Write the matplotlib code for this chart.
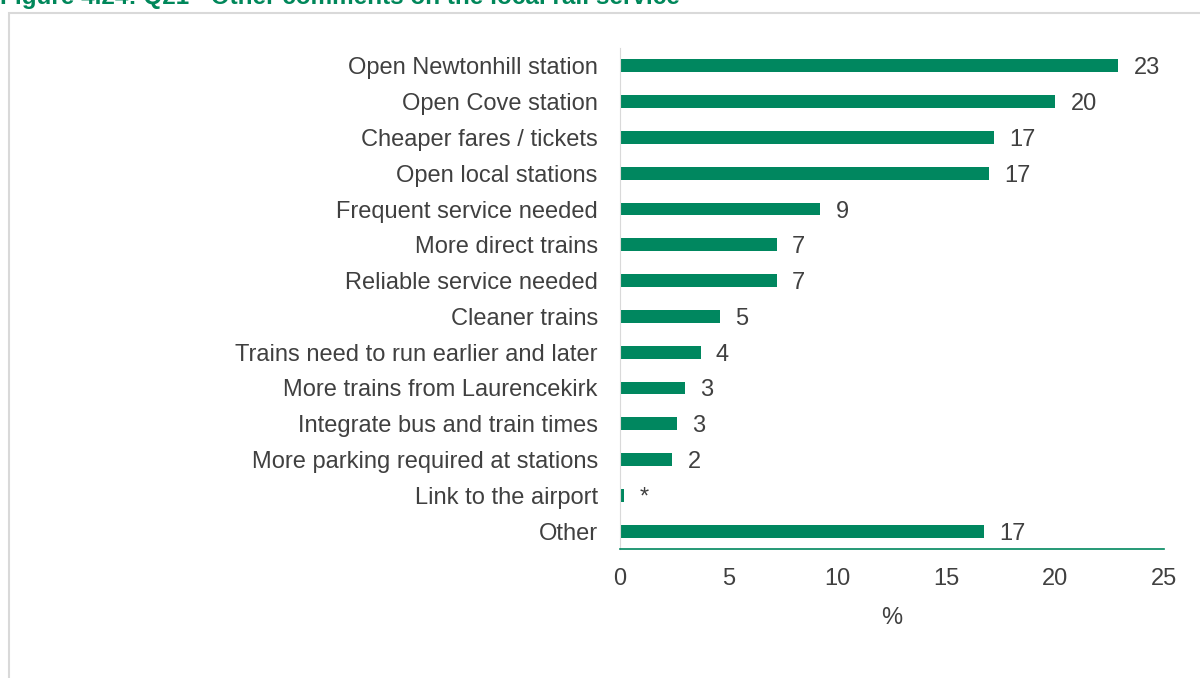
import matplotlib.pyplot as plt
from matplotlib.patches import Rectangle

plt.rcParams['font.family'] = ['Liberation Sans', 'DejaVu Sans']

categories = ["Open Newtonhill station", "Open Cove station", "Cheaper fares / tickets",
              "Open local stations", "Frequent service needed", "More direct trains",
              "Reliable service needed", "Cleaner trains", "Trains need to run earlier and later",
              "More trains from Laurencekirk", "Integrate bus and train times",
              "More parking required at stations", "Link to the airport", "Other"]
values = [22.9, 20.0, 17.2, 16.95, 9.2, 7.2, 7.2, 4.6, 3.7, 3.0, 2.6, 2.4, 0.2, 16.75]
labels = ["23", "20", "17", "17", "9", "7", "7", "5", "4", "3", "3", "2", "*", "17"]

green = "#00875F"
grey_text = "#404040"
fs = 17

fig = plt.figure(figsize=(12, 6.78), dpi=100)

# light grey frame of the chart area (runs off the right and bottom)
fig.patches.append(Rectangle((9 / 1200, -0.1), 1.2, 1 - 13 / 678 + 0.1,
                             transform=fig.transFigure, fill=False,
                             edgecolor="#D9D9D9", linewidth=1.5))

# title, cut off at the top edge as in the source
fig.text(0.0, 1 - 4 / 678, "Figure 4.24: Q21 - Other comments on the local rail service",
         color="#00875A", fontsize=17.5, fontweight="bold", va="baseline", ha="left")

ax = fig.add_axes([620 / 1200, 1 - 549 / 678, 544 / 1200, 501 / 678])
y = list(range(len(categories)))
ax.barh(y, values, height=0.36, color=green)
ax.set_ylim(len(categories) - 0.5, -0.5)
ax.set_xlim(0, 25)
ax.set_xticks([0, 5, 10, 15, 20, 25])
ax.set_yticks(y)
ax.set_yticklabels(categories)

for yi, v, lab in zip(y, values, labels):
    ax.text(v + 0.7, yi, lab, va="center_baseline", ha="left", fontsize=fs, color=grey_text)

for s in ["top", "right"]:
    ax.spines[s].set_visible(False)
ax.spines["left"].set_color("#D9D9D9")
ax.spines["bottom"].set_color(green)
ax.spines["bottom"].set_linewidth(1.2)
ax.tick_params(axis="both", length=0, labelsize=fs, labelcolor=grey_text)
ax.tick_params(axis="x", pad=14)
ax.tick_params(axis="y", pad=16)
ax.set_xlabel("%", fontsize=fs, color=grey_text, labelpad=12)

fig.savefig("out.png", dpi=100)
